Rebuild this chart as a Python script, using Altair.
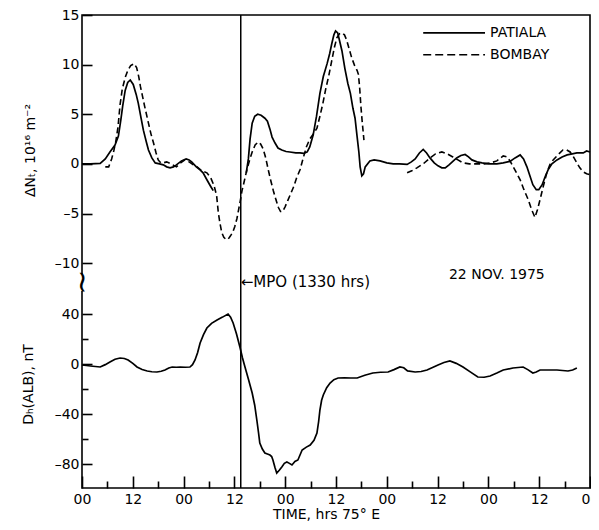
import altair as alt
import pandas as pd

# ---------------- data ----------------
# PATIALA (solid) delta N_T, two segments: (hour, value)
pat_seg1_h = [0, 2, 4.3, 5.5, 6.6, 7.8, 8.6, 9.2, 9.6, 10.2, 10.8, 11.4, 12.1, 12.8, 13.3, 14.0, 14.5,
              15.2, 15.7, 16.5, 17.3, 18.3, 19.2, 20.0, 20.8, 21.6, 22.3, 23.5, 24.6, 25.3, 25.9, 27.0,
              27.9, 28.6, 29.5, 30.3, 31.0]
pat_seg1_v = [0, 0, 0.05, 0.5, 1.2, 1.9, 2.8, 4.5, 5.8, 7.4, 8.2, 8.45, 8.0, 7.0, 6.1, 4.5, 3.4,
              2.2, 1.4, 0.6, 0.1, 0.0, -0.1, -0.3, -0.4, -0.3, -0.1, 0.3, 0.5, 0.4, 0.2, -0.3,
              -0.6, -0.9, -1.6, -2.2, -2.7]
pat_seg2_h = [38.8, 39.3, 39.7, 40.2, 40.8, 41.5, 42.3, 43.2, 43.8, 44.4, 44.9, 45.6, 46.3, 47.2, 48.2,
              49.1, 50.5, 51.5, 52.4, 53.2, 53.8, 54.6, 55.4, 56.2, 57.0, 57.9, 58.5, 59.0, 59.5, 59.9,
              60.4, 60.9, 61.4, 62.1, 62.8, 63.4, 64.0, 64.5, 65.0, 65.4, 65.7, 66.1, 66.5, 66.9, 68.0,
              69.0, 70.4, 72.0, 73.5, 75.0, 76.8, 77.8, 78.7, 79.7, 80.6, 81.4, 82.2, 83.2, 84.1, 85.0,
              85.8, 86.7, 87.6, 88.5, 89.5, 90.5, 91.3, 92.1, 93.3, 94.5, 96.0, 98.0, 99.5, 101.1, 102.3,
              103.5, 104.3, 105.1, 105.8, 106.5, 107.3, 107.9, 108.7, 109.4, 110.1, 111.0, 112.2, 113.4,
              114.6, 115.8, 116.9, 118.4, 119.2, 120.0]
pat_seg2_v = [-0.9, 0.5, 2.5, 4.1, 4.8, 5.0, 4.9, 4.6, 4.3, 3.5, 2.7, 2.1, 1.6, 1.4, 1.25,
              1.2, 1.1, 1.1, 1.05, 1.2, 1.7, 2.9, 4.8, 7.1, 8.8, 10.1, 11.1, 12.1, 13.0, 13.4,
              13.2, 12.3, 11.4, 9.6, 8.1, 7.1, 5.6, 4.6, 2.7, 1.2, -0.3, -1.2, -1.0, -0.3, 0.3,
              0.4, 0.3, 0.1, 0.0, 0.0, -0.05, 0.2, 0.5, 1.1, 1.45, 1.1, 0.6, 0.1, -0.2, -0.4,
              -0.4, -0.1, 0.25, 0.6, 0.85, 0.95, 0.7, 0.4, 0.2, 0.1, 0.0, 0.0, 0.1, 0.25, 0.6,
              0.9, 0.5, -0.3, -1.2, -2.1, -2.6, -2.6, -2.1, -1.3, -0.6, 0.0, 0.4, 0.7,
              0.9, 1.0, 1.1, 1.1, 1.3, 1.2]

# BOMBAY (dashed) delta N_T, two segments
bom_seg1_h = [5.5, 6.3, 7.0, 7.5, 8.0, 8.5, 9.0, 9.5, 10.2, 10.8, 11.5, 12.3, 12.9, 13.4, 13.8, 14.2, 14.8,
              15.7, 16.3, 16.9, 17.5, 18.0, 18.6, 19.2, 20.0, 21.0, 22.3, 23.3, 24.3, 25.3, 26.3, 27.2,
              28.3, 29.5, 30.4, 31.2, 31.8, 32.2, 32.6, 33.0, 33.5, 34.0, 34.5, 35.0, 35.6, 36.1, 36.6,
              37.0, 37.4, 37.8, 38.3, 39.0, 39.6, 40.2, 40.9, 41.6, 42.2, 42.8, 43.4, 44.0, 44.6, 45.2,
              45.8, 46.4, 46.9, 47.4, 48.0, 48.6, 49.3, 50.0, 50.7, 51.5, 52.2, 53.0, 53.8, 54.8, 55.5,
              56.2, 56.9, 57.6, 58.3, 59.0, 59.6, 60.2, 60.8, 61.4, 62.0, 62.5, 63.1, 63.7, 64.4, 65.0,
              65.3, 65.6, 65.9, 66.2, 66.6]
bom_seg1_v = [-0.3, -0.3, 0.5, 1.3, 2.3, 3.7, 6.0, 7.5, 8.7, 9.4, 9.9, 10.1, 9.7, 8.8, 7.8, 7.0, 5.8,
              4.1, 3.0, 2.1, 1.1, 0.4, 0.1, 0.1, 0.2, 0.0, -0.3, 0.1, 0.4, 0.2, -0.1, -0.3,
              -0.7, -0.9, -1.4, -2.2, -3.2, -4.9, -6.0, -6.9, -7.4, -7.6, -7.6, -7.3, -6.9, -6.3, -5.5,
              -4.6, -3.7, -2.7, -1.8, -0.5, 0.4, 1.2, 1.9, 2.2, 2.0, 1.5, 0.6, -0.6, -1.7, -2.7,
              -3.6, -4.4, -4.8, -4.8, -4.3, -3.7, -3.0, -2.3, -1.4, -0.6, 0.5, 1.7, 2.5, 3.1, 3.6,
              4.8, 6.1, 7.6, 8.9, 10.4, 11.7, 12.7, 13.1, 13.2, 13.0, 12.5, 11.6, 10.7, 9.9, 9.4,
              9.0, 7.6, 5.7, 4.2, 2.4]
bom_seg2_h = [76.8, 77.9, 79.1, 80.6, 82.2, 83.5, 85.0, 86.3, 87.6, 88.8, 90.0, 91.5, 93.0, 95.0, 96.5,
              98.0, 99.5, 100.4, 101.1, 102.0, 103.0, 103.5, 104.4, 105.4, 106.2, 107.0, 107.6, 108.2,
              109.0, 109.8, 110.5, 111.3, 112.4, 113.6, 114.5, 115.3, 116.1, 116.9, 117.6, 118.4, 119.2,
              120.0]
bom_seg2_v = [-0.9, -0.7, -0.4, 0.0, 0.6, 1.0, 1.2, 1.0, 0.7, 0.4, 0.1, 0.0, 0.0, 0.0, 0.1,
              0.3, 0.8, 0.7, 0.3, -0.4, -1.2, -1.6, -2.6, -3.6, -4.6, -5.4, -4.6, -3.6,
              -2.2, -0.9, -0.1, 0.4, 0.9, 1.4, 1.4, 1.2, 0.7, 0.1, -0.4, -0.8, -1.0,
              -1.1]

# D_H (ALB), nT
dh_h = [0, 2, 4.3, 5.5, 6.6, 7.8, 9.0, 10.0, 10.9, 12.0, 13.0, 14.2, 15.4, 16.5, 17.7, 18.7, 19.6, 20.5,
        21.3, 22.3, 23.2, 24.4, 25.5, 26.1, 26.7, 27.3, 27.9, 28.7, 29.5, 30.6, 31.9, 33.2, 34.5, 35.1,
        35.7, 36.5, 37.3, 37.9, 38.5, 39.3, 40.2, 40.8, 41.3, 41.7, 42.0, 42.6, 43.2, 43.8, 44.4, 44.8,
        45.1, 45.6, 46.0, 46.6, 47.2, 47.8, 48.4, 49.0, 49.6, 50.3, 51.0, 52.0, 53.0, 53.9, 54.8, 55.5,
        55.9, 56.2, 56.6, 57.0, 57.8, 58.6, 59.5, 60.5, 62.0, 63.5, 65.0, 66.8, 68.7, 70.5, 72.3, 73.7,
        75.1, 76.0, 76.9, 78.7, 80.1, 81.5, 82.8, 84.1, 85.5, 86.9, 88.4, 90.0, 91.8, 93.5, 95.0, 96.4,
        98.0, 99.5, 101.8, 104.2, 105.3, 106.5, 107.3, 108.2, 110.2, 112.2, 113.5, 114.8, 115.9, 116.9]
dh_v = [-0.8, -1.6, -2.4, -0.5, 1.6, 3.8, 4.8, 4.4, 3.2, 0.5, -2.4, -4.4, -5.6, -6.2, -6.4, -5.8, -4.8, -3.2,
        -2.4, -2.6, -2.4, -2.6, -2.4, -0.5, 3.2, 9.0, 16.8, 23.5, 28.8, 32.5, 35.2, 37.5, 40.0, 37.5,
        32.8, 24.0, 13.6, 5.0, -2.4, -12.0, -23.2, -33.0, -44.8, -55.0, -63.2, -68.0, -71.2, -72.0, -72.8, -74.0,
        -76.8, -83.0, -87.2, -85.0, -82.4, -79.5, -78.4, -79.5, -80.8, -78.0, -76.8, -68.8, -66.5, -64.8, -61.0, -55.2,
        -46.0, -36.8, -29.0, -24.8, -19.0, -15.2, -12.5, -11.2, -11.0, -11.2, -11.2, -9.0, -7.2, -6.6, -6.4, -4.5,
        -2.4, -3.0, -5.5, -6.4, -6.0, -4.8, -2.8, -0.8, 1.2, 2.4, 0.5, -2.4, -6.5, -10.4, -10.6, -9.6,
        -7.2, -4.8, -3.2, -2.4, -4.5, -7.2, -6.4, -4.8, -4.8, -4.8, -5.2, -5.6, -4.8, -3.2]

# ticks / labels
x_major = [0, 12, 24, 36, 48, 60, 72, 84, 96, 108, 120]
x_minor = [6, 18, 30, 42, 54, 66, 78, 90, 102, 114]
top_ticks = [-10, -5, 0, 5, 10, 15]
bot_ticks = [-80, -40, 0, 40]
bot_minor = [-60, -20, 20]
mpo_hour = [37.5]
mpo_label = ["\u2190MPO (1330 hrs)"]
date_label = ["22 NOV. 1975"]
legend_names = ["PATIALA", "BOMBAY"]
legend_x = [80.6, 95.2, 96.4]     # line start, line end, text start (hours)
legend_y = [13.2, 11.0]           # in delta N_T units

# ---------------- layout constants ----------------
W, H = 508, 473
TOP_H = 265
FONT = "DejaVu Sans"

xscale = alt.Scale(domain=[0, 120], nice=False, zero=False)
top_scale = alt.Scale(domain=[-11.7, 15], range=[TOP_H, 0], nice=False, zero=False)
bot_scale = alt.Scale(domain=[-99.2, 67.2], range=[H, TOP_H], nice=False, zero=False)

neg_expr = "datum.value < 0 ? '\u2013' + abs(datum.value) : '' + datum.value"


def seg_df(h, v, seg):
    return pd.DataFrame({"h": h, "v": v, "seg": seg})


pat_df = pd.concat([seg_df(pat_seg1_h, pat_seg1_v, "a"), seg_df(pat_seg2_h, pat_seg2_v, "b")])
bom_df = pd.concat([seg_df(bom_seg1_h, bom_seg1_v, "a"), seg_df(bom_seg2_h, bom_seg2_v, "b")])
dh_df = pd.DataFrame({"h": dh_h, "v": dh_v})

x_major_axis = alt.Axis(orient="bottom", values=x_major, labelExpr="datum.value % 24 == 0 ? '00' : '12'",
                        tickSize=12, offset=-12, domain=False, grid=False, labelPadding=4,
                        labelFlush=False, labelOverlap=False, title="TIME, hrs 75\u00b0 E",
                        titleX=244, titleY=31, titleBaseline="top", titleAlign="center")
x_minor_axis = alt.Axis(orient="bottom", values=x_minor, tickSize=7, offset=-7, domain=False, grid=False,
                        labels=False, title=None)
top_y_axis = alt.Axis(orient="left", values=top_ticks, labelExpr=neg_expr, tickSize=10, offset=-10,
                      domain=False, grid=False, labelPadding=3,
                      title="\u0394N\u209c, 10\u00b9\u2076 m\u207b\u00b2",
                      titleX=-62, titleY=135, titleAngle=270, titleBaseline="middle", titleAlign="center")
bot_y_axis = alt.Axis(orient="left", values=bot_ticks, labelExpr=neg_expr, tickSize=10, offset=-10,
                      domain=False, grid=False, labelPadding=3,
                      title="D\u2095(ALB), nT",
                      titleX=-64, titleY=369, titleAngle=270, titleBaseline="middle", titleAlign="center")
bot_minor_axis = alt.Axis(orient="left", values=bot_minor, tickSize=6, offset=-6, domain=False, grid=False,
                          labels=False, title=None)

pat = alt.Chart(pat_df).mark_line(color="black", strokeWidth=1.7).encode(
    x=alt.X("h:Q", scale=xscale, axis=x_major_axis),
    y=alt.Y("v:Q", scale=top_scale, axis=top_y_axis),
    detail="seg:N",
)
bom = alt.Chart(bom_df).mark_line(color="black", strokeWidth=1.6, strokeDash=[6, 3.5]).encode(
    x=alt.X("h:Q", scale=xscale, axis=x_minor_axis),
    y=alt.Y("v:Q", scale=top_scale, axis=None),
    detail="seg:N",
)
dh = alt.Chart(dh_df).mark_line(color="black", strokeWidth=1.7).encode(
    x=alt.X("h:Q", scale=xscale, axis=None),
    y=alt.Y("v:Q", scale=bot_scale, axis=bot_y_axis),
)
dh_minor = alt.Chart(dh_df).mark_line(opacity=0).encode(
    x=alt.X("h:Q", scale=xscale, axis=None),
    y=alt.Y("v:Q", scale=bot_scale, axis=bot_minor_axis),
)

mpo = alt.Chart(pd.DataFrame({"h": mpo_hour})).mark_rule(color="black", strokeWidth=1.5).encode(
    x=alt.X("h:Q", scale=xscale, axis=None),
    y=alt.value(0), y2=alt.value(H),
)
mpo_text = alt.Chart(pd.DataFrame({"h": mpo_hour, "v": [65.6], "t": mpo_label})).mark_text(
    align="left", baseline="middle", font=FONT, fontSize=15, color="black", dx=0
).encode(
    x=alt.X("h:Q", scale=xscale, axis=None),
    y=alt.Y("v:Q", scale=bot_scale, axis=None),
    text="t:N",
)
date_text = alt.Chart(pd.DataFrame({"h": [98.0], "v": [-11.2], "t": date_label})).mark_text(
    align="center", baseline="middle", font=FONT, fontSize=14, color="black"
).encode(
    x=alt.X("h:Q", scale=xscale, axis=None),
    y=alt.Y("v:Q", scale=top_scale, axis=None),
    text="t:N",
)

leg_df = pd.DataFrame({"x0": [legend_x[0]] * 2, "x1": [legend_x[1]] * 2, "xt": [legend_x[2]] * 2,
                       "v": legend_y, "name": legend_names})
leg_solid = alt.Chart(leg_df.iloc[[0]]).mark_rule(color="black", strokeWidth=1.7).encode(
    x=alt.X("x0:Q", scale=xscale, axis=None), x2="x1:Q",
    y=alt.Y("v:Q", scale=top_scale, axis=None),
)
leg_dash = alt.Chart(leg_df.iloc[[1]]).mark_rule(color="black", strokeWidth=1.6, strokeDash=[8, 4]).encode(
    x=alt.X("x0:Q", scale=xscale, axis=None), x2="x1:Q",
    y=alt.Y("v:Q", scale=top_scale, axis=None),
)
leg_text = alt.Chart(leg_df).mark_text(align="left", baseline="middle", font=FONT, fontSize=14,
                                       color="black").encode(
    x=alt.X("xt:Q", scale=xscale, axis=None),
    y=alt.Y("v:Q", scale=top_scale, axis=None),
    text="name:N",
)

# axis break on the left frame line
brk_df = pd.DataFrame({"k": [1]})
brk_white = alt.Chart(brk_df).mark_rect(color="white").encode(
    x=alt.value(-4), x2=alt.value(4), y=alt.value(259), y2=alt.value(276)
)
brk_mark = alt.Chart(brk_df).mark_text(text="~", fontSize=30, font=FONT, angle=90, color="black",
                                       baseline="middle", align="center").encode(
    x=alt.value(0), y=alt.value(267)
)

chart = alt.layer(
    pat, bom, dh, dh_minor, mpo, mpo_text, date_text, leg_solid, leg_dash, leg_text, brk_white, brk_mark
).resolve_scale(y="independent").resolve_axis(x="independent", y="independent").properties(
    width=W, height=H,
    autosize=alt.AutoSizeParams(type="none"),
    padding={"left": 74, "top": 7, "right": 1, "bottom": 35},
).configure_view(stroke="black", strokeWidth=1.6).configure_axis(
    labelFont=FONT, labelFontSize=14, labelColor="black", tickColor="black", tickWidth=1.6,
    titleFont=FONT, titleFontSize=14, titleFontWeight="normal", titleColor="black",
)

chart.save("out.html", embed_options={"renderer": "svg", "actions": False})
